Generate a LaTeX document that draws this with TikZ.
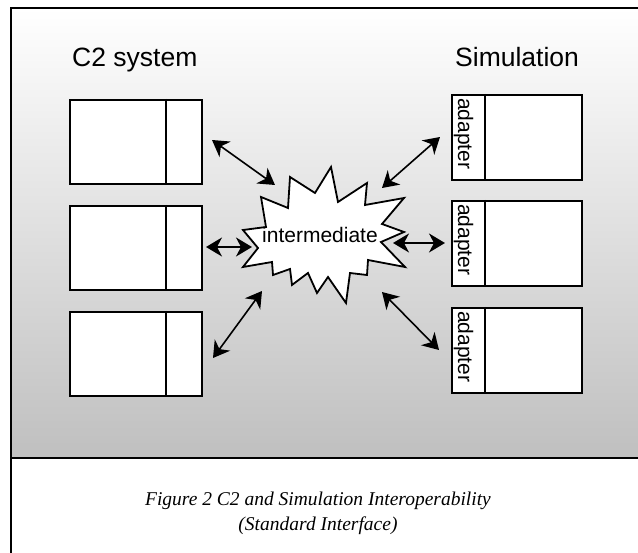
\documentclass[tikz,border=0pt]{standalone}
\usepackage{fontspec}
\setmainfont{Liberation Sans}
\newfontfamily\capfont{Liberation Serif}
\usetikzlibrary{arrows.meta}
\begin{document}
\begin{tikzpicture}[x=1pt,y=-1pt,
  box/.style={draw, line width=1.8pt, fill=white, inner sep=0pt, anchor=north west},
  lk/.style={line width=1.6pt, {Stealth[length=16pt,width=19pt,inset=5pt]}-{Stealth[length=16pt,width=19pt,inset=5pt]}},
  ttl/.style={font=\fontsize{26.5}{30}\selectfont, inner sep=0pt, anchor=base west},
  adp/.style={font=\fontsize{21}{24}\selectfont, inner sep=0pt, anchor=base west, rotate=-90},
  capt/.style={font=\capfont\itshape\fontsize{19.5}{23}\selectfont, inner sep=0pt, anchor=base}]
\useasboundingbox (0,0) rectangle (638,553);
\fill[white] (0,0) rectangle (638,553);
\shade[top color=white, bottom color=black!25] (11,8) rectangle (638,458);
\draw[line width=1.4pt] (638,8) -- (11,8) -- (11,553);
\draw[line width=1.8pt] (11,458) -- (638,458);

% titles
\node[ttl] (t1) at (72,67) {C2 system};
\node[ttl] (t2) at (455,67) {Simulation};

% C2 system boxes
\foreach \n/\y in {c1/99, c2/205, c3/311}{
  \node[box, minimum width=132pt, minimum height=84pt] (\n) at (69,\y) {};
  \draw[line width=1.8pt] ([xshift=97pt]\n.north west) -- ([xshift=97pt]\n.south west);
}
% Simulation boxes
\foreach \n/\y in {s1/94, s2/200, s3/307}{
  \node[box, minimum width=130pt, minimum height=85pt] (\n) at (451,\y) {};
  \draw[line width=1.8pt] ([xshift=34pt]\n.north west) -- ([xshift=34pt]\n.south west);
  \node[adp] (a\n) at (458,\y+4) {adapter};
}

% starburst
\draw[line width=1.8pt, fill=white, line join=miter]
  (331,167) -- (338,202) -- (367,183) -- (365,205) -- (404,198) -- (382,224)
  -- (404,232) -- (381,242) -- (405,267) -- (368,260) -- (367,275) -- (350,273)
  -- (346,303) -- (328,277) -- (317,293) -- (308,273) -- (292,285) -- (290,269)
  -- (273,275) -- (272,262) -- (243,267) -- (258,248) -- (243,230) -- (266,227)
  -- (261,197) -- (288,208) -- (290,177) -- (315,193) -- cycle;
\node[font=\fontsize{21}{24}\selectfont, inner sep=0pt, anchor=base] (inter) at (320,243) {intermediate};

% arrow end points
\coordinate (l1a) at (212,140); \coordinate (l1b) at (275,185);
\coordinate (l2a) at (206,247); \coordinate (l2b) at (252,247);
\coordinate (l3a) at (213,358); \coordinate (l3b) at (262,291);
\coordinate (r1a) at (382,188); \coordinate (r1b) at (440,137);
\coordinate (r2a) at (393,243); \coordinate (r2b) at (445,243);
\coordinate (r3a) at (382,292); \coordinate (r3b) at (439,350);
\draw[lk] (l1a) -- (l1b);
\draw[lk] (l2a) -- (l2b);
\draw[lk] (l3a) -- (l3b);
\draw[lk] (r1a) -- (r1b);
\draw[lk] (r2a) -- (r2b);
\draw[lk] (r3a) -- (r3b);

% caption
\node[capt] (cap1) at (318,506) {Figure 2 C2 and Simulation Interoperability};
\node[capt] (cap2) at (318,530) {(Standard Interface)};
\end{tikzpicture}
\end{document}
